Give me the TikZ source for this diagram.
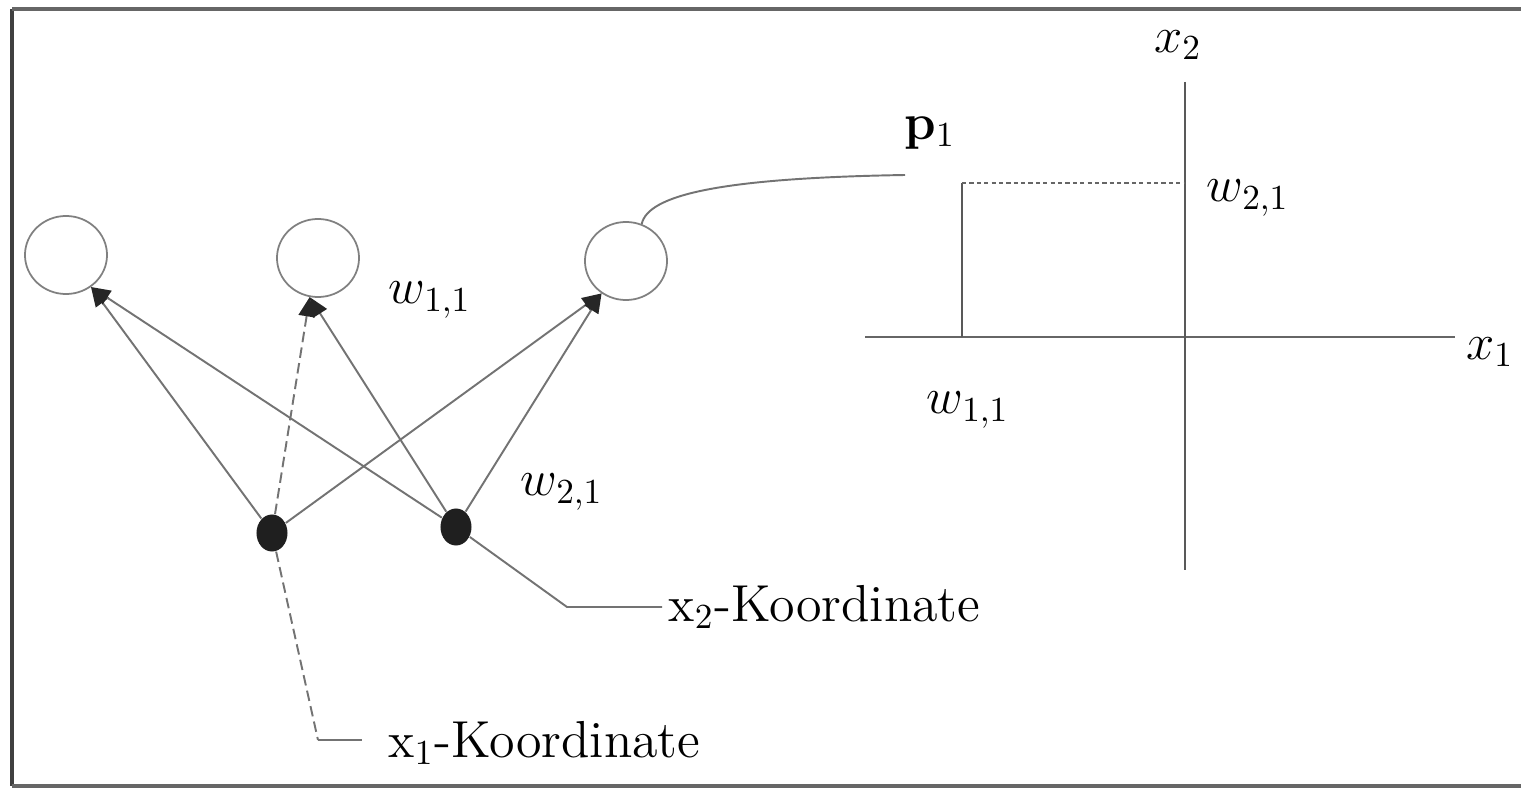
\documentclass[tikz,border=0pt]{standalone}
\usetikzlibrary{arrows.meta,shapes.geometric}
\begin{document}
\begin{tikzpicture}[x=0.01cm,y=-0.01cm,
  conn/.style={draw=black!55, line width=0.55pt},
  arr/.style={conn, -{Triangle[length=5.5pt,width=4.6pt,color=black!85,fill=black!85]}},
  neuron/.style={draw=black!50, line width=0.5pt, ellipse, minimum width=0.82cm, minimum height=0.78cm, inner sep=0pt},
  inp/.style={fill=black!88, draw=none, ellipse, minimum width=0.31cm, minimum height=0.37cm, inner sep=0pt},
  lbl/.style={font=\fontsize{14.8}{17}\selectfont, inner sep=0pt},
  axisline/.style={draw=black!60, line width=0.8pt},
  fine/.style={conn, dash pattern=on 3pt off 1.5pt},
  dotline/.style={draw=black!60, line width=0.6pt, dash pattern=on 1.2pt off 0.9pt}]
\useasboundingbox (0,0) rectangle (1521,788);
% frame
\draw[black!75, line width=1.1pt] (12,9) -- (12,786);
\draw[black!60, line width=1.1pt] (12,9) -- (1521,9);
\draw[black!60, line width=0.9pt] (12,786) -- (1521,786);
% neurons
\node[neuron] (n1) at (66,255) {};
\node[neuron] (n2) at (318,258) {};
\node[neuron] (n3) at (626,261) {};
% inputs
\node[inp] (d1) at (272,533) {};
\node[inp] (d2) at (456,527) {};
% connections
\draw[arr] (d1) -- (n1.-52);
\draw[arr, dash pattern=on 3pt off 1.5pt] (d1) -- (n2.-102);
\draw[arr] (d1) -- (n3.-127);
\draw[arr] (d2) -- (n1.-52);
\draw[arr] (d2) -- (n2.-102);
\draw[arr] (d2) -- (n3.-127);
% leaders
\coordinate (c1) at (318,740);
\coordinate (e1) at (362,740);
\draw[fine] (d1) -- (c1);
\draw[conn] (c1) -- (e1);
\node[lbl, anchor=west] (k1) at (388,743) {$\mathrm{x}_1$-Koordinate};
\coordinate (c2) at (567,607);
\coordinate (e2) at (662,607);
\draw[conn] (d2) -- (c2) -- (e2);
\node[lbl, anchor=west] (k2) at (668,607) {$\mathrm{x}_2$-Koordinate};
% weights labels
\node[lbl] (w11a) at (430,300) {$w_{1,1}$};
\node[lbl] (w21a) at (562,492) {$w_{2,1}$};
% curve to p1
\coordinate (pend) at (905,175);
\draw[conn] (n3.67) .. controls (648,195) and (720,178) .. (pend);
\node[lbl] (p1) at (930,133) {$\mathbf{p}_1$};
% axes
\coordinate (xl) at (865,337);
\coordinate (xr) at (1455,337);
\coordinate (yt) at (1185,82);
\coordinate (yb) at (1185,570);
\draw[axisline] (xl) -- (xr);
\draw[draw=black!65, line width=0.6pt] (yt) -- (yb);
\node[lbl] (x1l) at (1490,352) {$x_1$};
\node[lbl] (x2l) at (1178,45) {$x_2$};
% point projection
\coordinate (pb) at (962,337);
\coordinate (pp) at (962,183);
\coordinate (py) at (1185,183);
\draw[draw=black!65, line width=0.6pt] (pb) -- (pp);
\draw[dotline] (pp) -- (py);
\node[lbl] (w21b) at (1248,198) {$w_{2,1}$};
\node[lbl] (w11b) at (968,410) {$w_{1,1}$};
\end{tikzpicture}
\end{document}
